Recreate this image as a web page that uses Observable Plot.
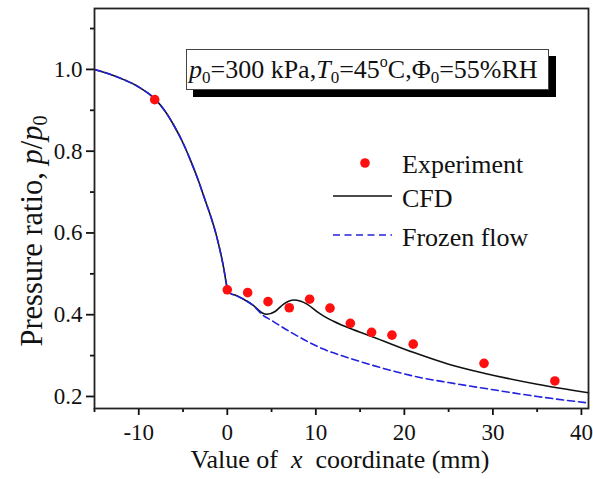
<!DOCTYPE html>
<html><head><meta charset="utf-8">
<script src="https://cdn.jsdelivr.net/npm/d3@7"></script>
<script src="https://cdn.jsdelivr.net/npm/@observablehq/plot@0.6"></script>
<style>
body{margin:0;background:#fff}
svg, svg text { font-family: "Liberation Serif", "DejaVu Serif", serif !important; }
</style>
</head><body><div id="chart"></div>
<script>
// Experiment (red dots)
const expX = [-8.2, 0, 2.3, 4.6, 7.0, 9.3, 11.6, 13.9, 16.3, 18.6, 21.0, 29.0, 37.0];
const expY = [0.926, 0.461, 0.454, 0.432, 0.417, 0.438, 0.416, 0.379, 0.357, 0.350, 0.328, 0.281, 0.238];
// CFD (black solid)
const cfdX = [-15, -13.5, -11.7, -10, -8.1, -7, -6.06, -5, -4.2, -3.3, -2.5, -1.8, -1.16, -0.42, 0, 0.34, 1.0, 1.84, 2.97, 3.9, 4.5, 5.4, 6.36, 7.5, 8.3, 9.0, 10.3, 10.85, 12.0, 13.9, 16.3, 21, 25, 29, 35, 40.8];
const cfdY = [1.0, 0.990, 0.975, 0.957, 0.926, 0.897, 0.864, 0.820, 0.780, 0.730, 0.680, 0.636, 0.588, 0.516, 0.465, 0.452, 0.447, 0.438, 0.422, 0.405, 0.401, 0.408, 0.426, 0.436, 0.433, 0.426, 0.405, 0.397, 0.384, 0.366, 0.347, 0.308, 0.279, 0.257, 0.230, 0.209];
// Frozen flow (blue dashed)
const frozenX = [-15, -13.5, -11.7, -10, -8.1, -7, -6.06, -5, -4.2, -3.3, -2.5, -1.8, -1.16, -0.42, 0, 0.34, 1.0, 1.84, 2.97, 3.9, 5.0, 7.5, 10.85, 13.9, 16.3, 18.6, 21, 25, 29, 35, 40.8];
const frozenY = [1.0, 0.990, 0.975, 0.957, 0.926, 0.897, 0.864, 0.820, 0.780, 0.730, 0.680, 0.636, 0.588, 0.516, 0.465, 0.452, 0.447, 0.438, 0.422, 0.401, 0.386, 0.353, 0.316, 0.293, 0.277, 0.263, 0.250, 0.234, 0.220, 0.200, 0.184];

const xMajorTicks = [-10, 0, 10, 20, 30, 40];
const xMinorTicks = [-15, -5, 5, 15, 25, 35];
const yMajorTicks = [0.2, 0.4, 0.6, 0.8, 1.0];
const yMinorTicks = [0.3, 0.5, 0.7, 0.9, 1.1];
const seriesNames = ["Experiment", "CFD", "Frozen flow"];

const expData = expX.map((x, i) => ({x, y: expY[i]}));
const cfdData = cfdX.map((x, i) => ({x, y: cfdY[i]}));
const frozenData = frozenX.map((x, i) => ({x, y: frozenY[i]}));

const FONT = "Liberation Serif, DejaVu Serif, serif";
const RED = "#ff1010", BLUE = "#2222dd";

const svg = Plot.plot({
  width: 593, height: 479,
  marginLeft: 94, marginRight: 5, marginTop: 8, marginBottom: 71,
  style: {fontFamily: FONT, background: "#fff", color: "#111"},
  x: {domain: [-15, 40.8]},
  y: {domain: [0.1706, 1.149]},
  marks: [
    Plot.axisX({ticks: xMajorTicks, tickSize: 7, tickPadding: 8, strokeWidth: 1.8, fontSize: 23, tickFormat: d => String(d), label: null}),
    Plot.axisX({ticks: xMinorTicks, tickSize: 4, strokeWidth: 1.8, tickFormat: () => "", label: null}),
    Plot.axisY({ticks: yMajorTicks, tickSize: 8, tickPadding: 4, strokeWidth: 1.8, fontSize: 23, tickFormat: d => d.toFixed(1), label: null}),
    Plot.axisY({ticks: yMinorTicks, tickSize: 4, strokeWidth: 1.8, tickFormat: () => "", label: null}),
    Plot.line(cfdData, {x: "x", y: "y", stroke: "#111", strokeWidth: 1.6, curve: "monotone-x"}),
    Plot.line(frozenData, {x: "x", y: "y", stroke: BLUE, strokeWidth: 1.6, strokeDasharray: "7,4", curve: "monotone-x"}),
    Plot.dot(expData, {x: "x", y: "y", r: 4.8, fill: RED, stroke: "none"}),
    Plot.frame({stroke: "#222", strokeWidth: 1.8})
  ]
});
document.getElementById("chart").appendChild(svg);

const s = d3.select(svg);
function rich(g, parts, attrs) {
  const t = g.append("text").attr("font-family", FONT).attr("text-anchor", "start");
  for (const k in attrs) t.attr(k, attrs[k]);
  for (const p of parts) {
    const ts = t.append("tspan").text(p.t);
    if (p.i) ts.attr("font-style", "italic");
    if (p.size) ts.attr("font-size", p.size);
    if (p.dy) ts.attr("dy", p.dy);
    if (p.dx) ts.attr("dx", p.dx);
  }
  return t;
}

// axis labels
rich(s, [{t: "Value of\u00a0\u00a0"}, {t: "x", i: true}, {t: "\u00a0\u00a0coordinate (mm)"}],
  {x: 340, y: 468, "text-anchor": "middle", "font-size": 26, fill: "#111"});
rich(s, [{t: "Pressure ratio, "}, {t: "p", i: true}, {t: "/"}, {t: "p", i: true}, {t: "0", size: 20, dy: 5}],
  {transform: "translate(42,231) rotate(-90)", "text-anchor": "middle", "font-size": 30.5, fill: "#111"});

// annotation box
s.append("rect").attr("x", 193).attr("y", 56).attr("width", 363).attr("height", 41).attr("fill", "#000");
s.append("rect").attr("x", 186.5).attr("y", 49.5).attr("width", 362).attr("height", 40).attr("fill", "#fff").attr("stroke", "#444").attr("stroke-width", 1);
rich(s, [
  {t: "p", i: true}, {t: "0", size: 17, dy: 5}, {t: "=300 kPa,", dy: -5},
  {t: "T", i: true}, {t: "0", size: 17, dy: 5}, {t: "=45", dy: -5},
  {t: "o", size: 16, dy: -11}, {t: "C,Φ", dy: 11}, {t: "0", size: 17, dy: 5}, {t: "=55%RH", dy: -5}
], {x: 189, y: 78, "font-size": 26, fill: "#111"});

// legend
const lg = s.append("g");
lg.append("circle").attr("cx", 365).attr("cy", 163).attr("r", 4.8).attr("fill", RED);
lg.append("line").attr("x1", 333).attr("x2", 392).attr("y1", 196).attr("y2", 196).attr("stroke", "#111").attr("stroke-width", 1.6);
lg.append("line").attr("x1", 333).attr("x2", 392).attr("y1", 235).attr("y2", 235).attr("stroke", BLUE).attr("stroke-width", 1.6).attr("stroke-dasharray", "7,4.5");
const baselines = [173, 207, 246];
seriesNames.forEach((n, i) => {
  lg.append("text").attr("x", 402).attr("y", baselines[i]).attr("text-anchor", "start").attr("font-family", FONT).attr("font-size", 26).attr("fill", "#111").text(n);
});
</script></body></html>
